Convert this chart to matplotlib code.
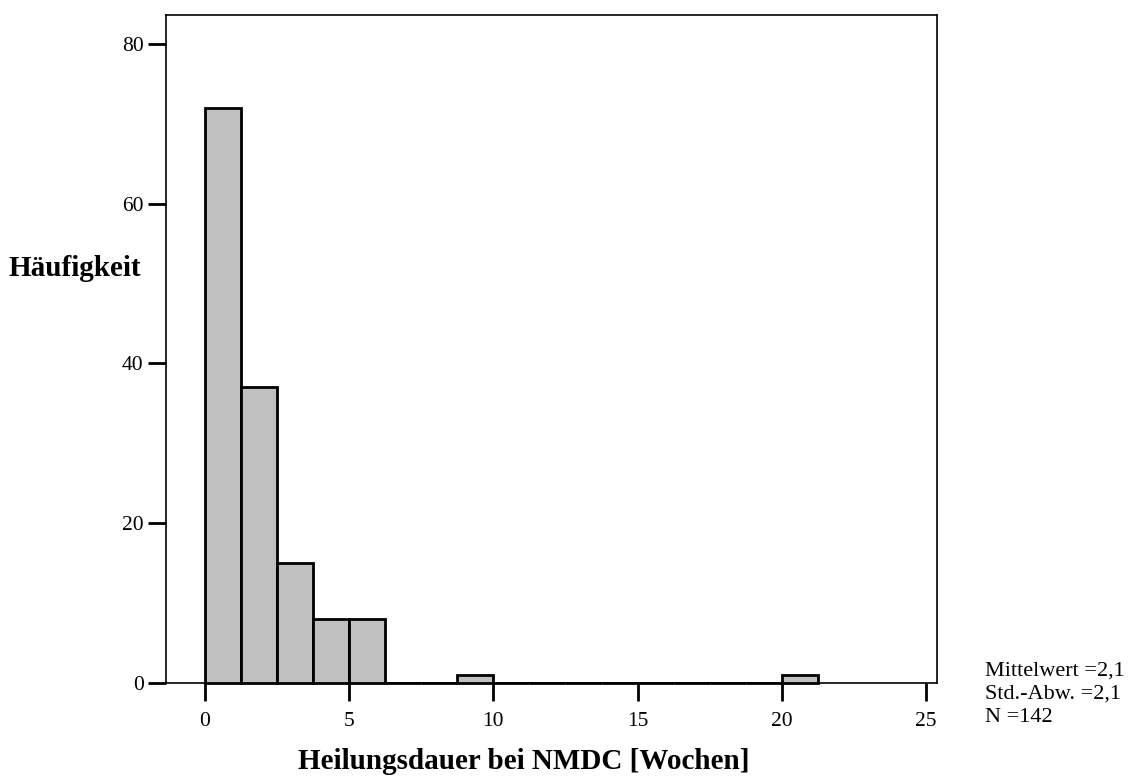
import numpy as np
import matplotlib
matplotlib.use("Agg")
import matplotlib.pyplot as plt

plt.rcParams['font.family'] = ['Liberation Serif', 'DejaVu Serif']

# histogram bins (width 1.25 weeks) and counts
bin_width = 1.25
bin_left = np.arange(0, 21.25, bin_width)
counts = [72, 37, 15, 8, 8, 0, 0, 1, 0, 0, 0, 0, 0, 0, 0, 0, 1]
xticks = [0, 5, 10, 15, 20, 25]
yticks = [0, 20, 40, 60, 80]
stats_txt = "Mittelwert =2,1\nStd.-Abw. =2,1\nN =142"

fig = plt.figure(figsize=(11.43, 7.82), dpi=100)
ax = fig.add_axes([0.1452, 0.1266, 0.8198 - 0.1452, 0.9808 - 0.1266])

ax.bar(bin_left, counts, width=bin_width, align='edge',
       color='#c0c0c0', edgecolor='black', linewidth=2, zorder=3,
       clip_on=False)

ax.set_xlim(-1.35, 25.38)
ax.set_ylim(0, 83.6)
ax.set_xticks(xticks)
ax.set_yticks(yticks)
ax.tick_params(axis='both', direction='out', length=13, width=2,
               labelsize=15.5)
ax.tick_params(axis='y', pad=3)
ax.tick_params(axis='x', pad=8)
for s in ax.spines.values():
    s.set_linewidth(1.2)

fig.text(0.007, 0.657, "Häufigkeit", fontsize=21, fontweight='bold',
         va='center', ha='left')
fig.text(0.4585, 0.026, "Heilungsdauer bei NMDC [Wochen]", fontsize=21,
         fontweight='bold', ha='center', va='center')
fig.text(0.862, 0.1125, stats_txt, fontsize=16, ha='left', va='center',
         linespacing=1.3)

fig.savefig("out.png", dpi=100)
